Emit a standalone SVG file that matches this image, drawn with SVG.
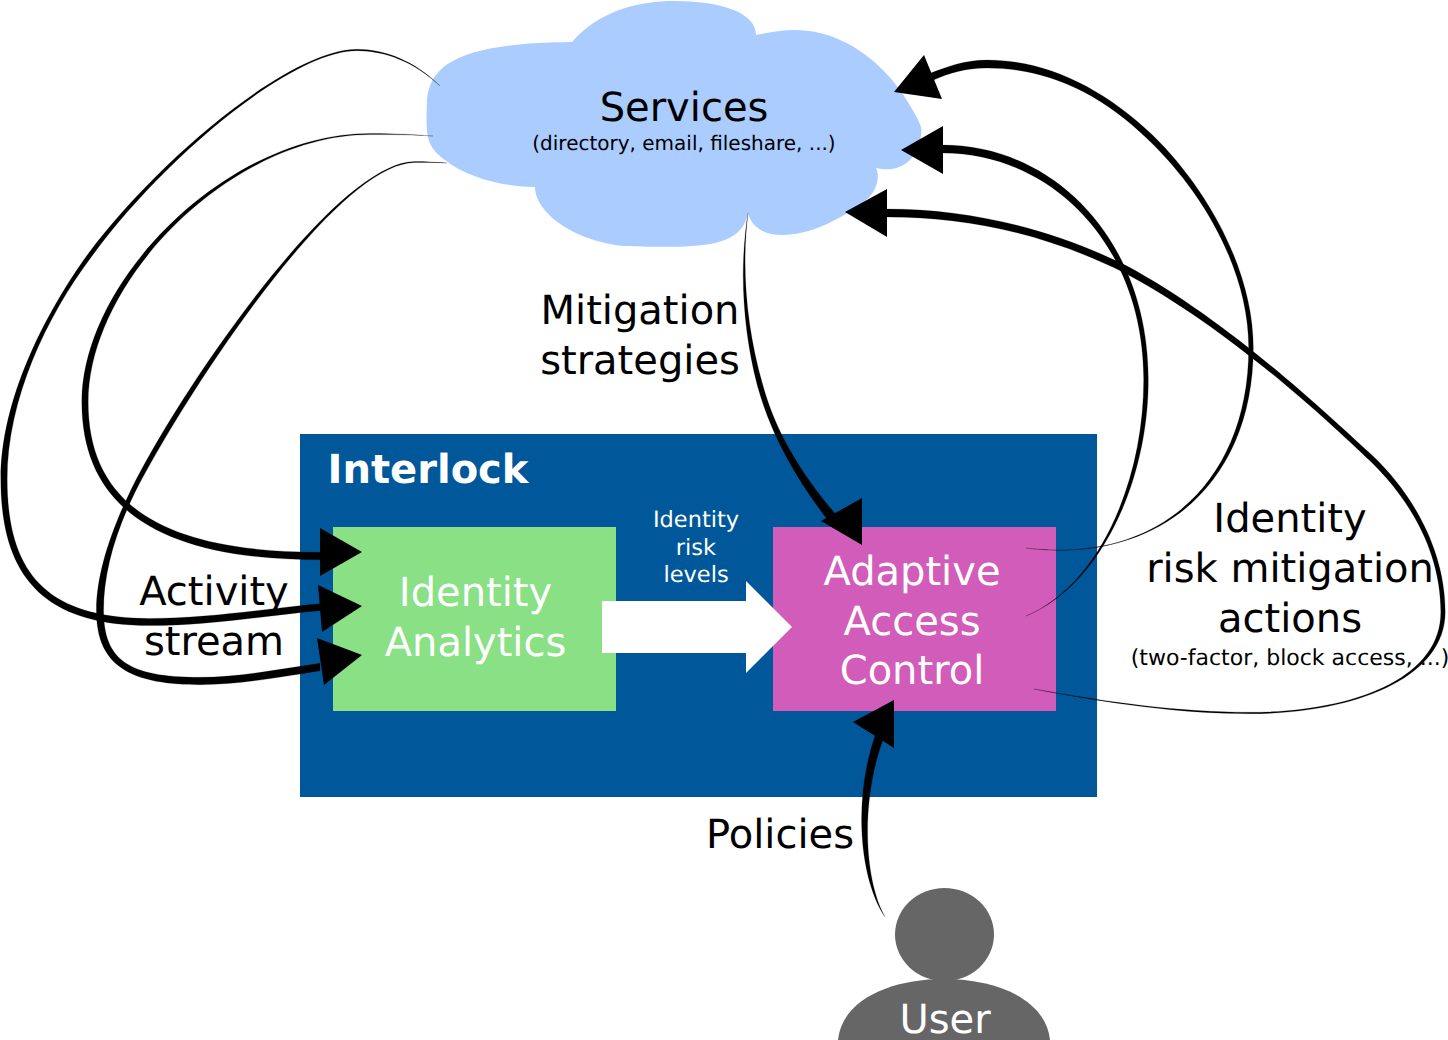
<svg xmlns="http://www.w3.org/2000/svg" width="1448" height="1040" viewBox="0 0 1448 1040">
<style>
text{font-family:"DejaVu Sans","Liberation Sans",sans-serif;text-anchor:middle;text-rendering:geometricPrecision}
.big{font-size:40px;fill:#000}
.wht{font-size:40px;fill:#fff}
.sm{font-size:20px;fill:#000}
.sm2{font-size:22px;fill:#000}
.lvl{font-size:22.5px;fill:#fff}
.con path{fill:#000;stroke:#000;stroke-width:.2}
.con polygon{fill:#000;stroke:none}
</style>
<rect width="1448" height="1040" fill="#fff"/>
<g id="interlock">
<rect x="300" y="434" width="797" height="363" fill="#00589a"/>
<text x="428" y="483" font-size="40" font-weight="bold" fill="#fff">Interlock</text>
</g>
<g id="services">
<path fill="#aaccff" d="M572,42 C600,10 640,1 674,1 C720,1 756,12 756,35 C770,32 785,30 795,30 C845,30 882,65 900,90 C910,105 918,118 921,127 C923,140 915,155 910,160 C900,169 890,171 876,168 C880,175 878,190 866,200 C840,220 810,235 782,235 C765,235 752,228 748,213 C745,225 740,237 715,243 C695,248 650,247 626,246 C580,243 535,215 535,187 C510,187 470,180 445,160 C425,145 426,135 427,100 C430,60 470,43 572,42Z"/>
<text class="big" x="684" y="121">Services</text>
<text class="sm" x="684" y="150">(directory, email, fileshare, ...)</text>
</g>
<g id="identity-analytics">
<rect x="333" y="527" width="283" height="184" fill="#89e085"/>
<text class="wht" x="475.5" y="605.5">Identity</text>
<text class="wht" x="475.5" y="655.5">Analytics</text>
</g>
<g id="adaptive-access-control">
<rect x="773" y="527" width="283" height="184" fill="#d15cb9"/>
<text class="wht" x="912" y="585">Adaptive</text>
<text class="wht" x="912" y="635">Access</text>
<text class="wht" x="912" y="684">Control</text>
</g>
<g id="risk-levels">
<polygon fill="#fff" points="602,601 746,601 746,581 792,627 746,673 746,653 602,653"/>
<text class="lvl" x="696" y="527">Identity</text>
<text class="lvl" x="696" y="555">risk</text>
<text class="lvl" x="696" y="582">levels</text>
</g>
<g id="user">
<ellipse cx="944.5" cy="934.5" rx="49.5" ry="46.5" fill="#666"/>
<path fill="#666" d="M838,1040 C842,1000 890,979 944,979 C998,979 1046,1000 1050,1040Z"/>
<text class="wht" x="945" y="1033">User</text>
</g>
<g id="labels">
<text class="big" x="640" y="324">Mitigation</text>
<text class="big" x="640" y="374">strategies</text>
<text class="big" x="214" y="605">Activity</text>
<text class="big" x="214" y="654.5">stream</text>
<text class="big" x="1290" y="532">Identity</text>
<text class="big" x="1290" y="582">risk mitigation</text>
<text class="big" x="1290" y="632">actions</text>
<text class="sm2" x="1290" y="665">(two-factor, block access, ...)</text>
<text class="big" x="780" y="848">Policies</text>
</g>
<g id="connectors" class="con">
<g id="services-to-analytics-1">
<path d="M440,86 C415,62 385,50.7 357,50.7 C290,50.7 161,161 91.8,256.3 C46,317 7.2,400 7.2,479 C7.2,575 48,618.4 150,618.4 C210,618.4 270,608 322,603.5 L322,610.5 C270,615 210,625.6 150,625.6 C42,625.6 .8,575 .8,479 C.8,400 44,315 88.2,253.7 C159,159 290,49.3 357,49.3 C385,49.3 415,61 440,86Z"/>
<polygon points="362,606 318,585 322,632"/>
</g>
<g id="services-to-analytics-2">
<path d="M433,136 C415,135 395,134.6 370,134.6 C232,134.6 88.2,280 88.2,402 C88.2,503 160,552.2 320,552.2 L320,559.8 C158,559.8 81.8,507 81.8,402 C81.8,280 228,133.4 370,133.4 C395,133.4 415,134.6 433,136Z"/>
<polygon points="362,552 320,528 320,576"/>
</g>
<g id="services-to-analytics-3">
<path d="M447,163 C435,162.5 425,162.5 415,162.5 C335,163 184,397 135,492.3 C114,535 103.6,575 103.6,610 C103.6,660 128,677.3 200,677.3 C240,677.3 280,669 320,663.3 L320,670.7 C280,677 240,684.7 200,684.7 C122,684.7 96.4,660 96.4,610 C96.4,575 110,533 131,489.7 C178,394 335,161.5 415,161.5 C425,161.5 435,162 447,163Z"/>
<polygon points="362,655 317,638 324,685"/>
</g>
<g id="control-to-services-1">
<path d="M1026,548 C1160,564.8 1248.7,480 1248.7,348 C1248.7,270 1203,192 1147.8,139.3 C1098,91 1045,68 987,68 C965,68 950,73 932.4,80.4 L929.6,73.6 C946,67 965,60 987,60 C1045,60 1102,87 1152.2,134.7 C1207,188 1253.3,270 1253.3,348 C1253.3,482 1160,565.2 1026,548Z"/>
<polygon points="894,92 924,55 942,99"/>
</g>
<g id="control-to-services-2">
<path d="M1026,616 C1100,585 1143.7,480 1143.7,380 C1143.7,243 1050,153 943,153 L943,145 C1052,145 1148.3,238 1148.3,380 C1148.3,482 1100,586 1026,616Z"/>
<polygon points="901,150 943,126 943,174"/>
</g>
<g id="control-to-services-3">
<path d="M1034,689 C1110,702.5 1180,712.3 1250,712.3 C1350,712.3 1440.8,680 1440.8,612 C1440.8,550 1408,497 1369.1,460 C1329,422 1229,328 1123.4,272.2 C1048,235 970,217 887,217 L887,209 C970,209 1052,229 1126.6,265.8 C1231,322 1331,418 1372.9,456 C1412,493 1445.2,550 1445.2,612 C1445.2,680 1350,713.7 1250,713.7 C1180,713.7 1110,703.5 1034,689Z"/>
<polygon points="845,212 887,189 887,237"/>
</g>
<g id="services-to-control">
<path d="M748,213 C741,270 747,330 762.6,384.2 C777,438 808,483 842,521.6 L834,528.4 C802,487 773,442 757.4,385.8 C743,330 739,270 748,213Z"/>
<polygon points="862,545 862,498 821,521"/>
</g>
<g id="user-to-control">
<path d="M885,917 C864,880 860,800 884,737 L876,733 C852,800 860,880 885,917Z"/>
<polygon points="894,700 853,722 894,748"/>
</g>
</g>
</svg>
